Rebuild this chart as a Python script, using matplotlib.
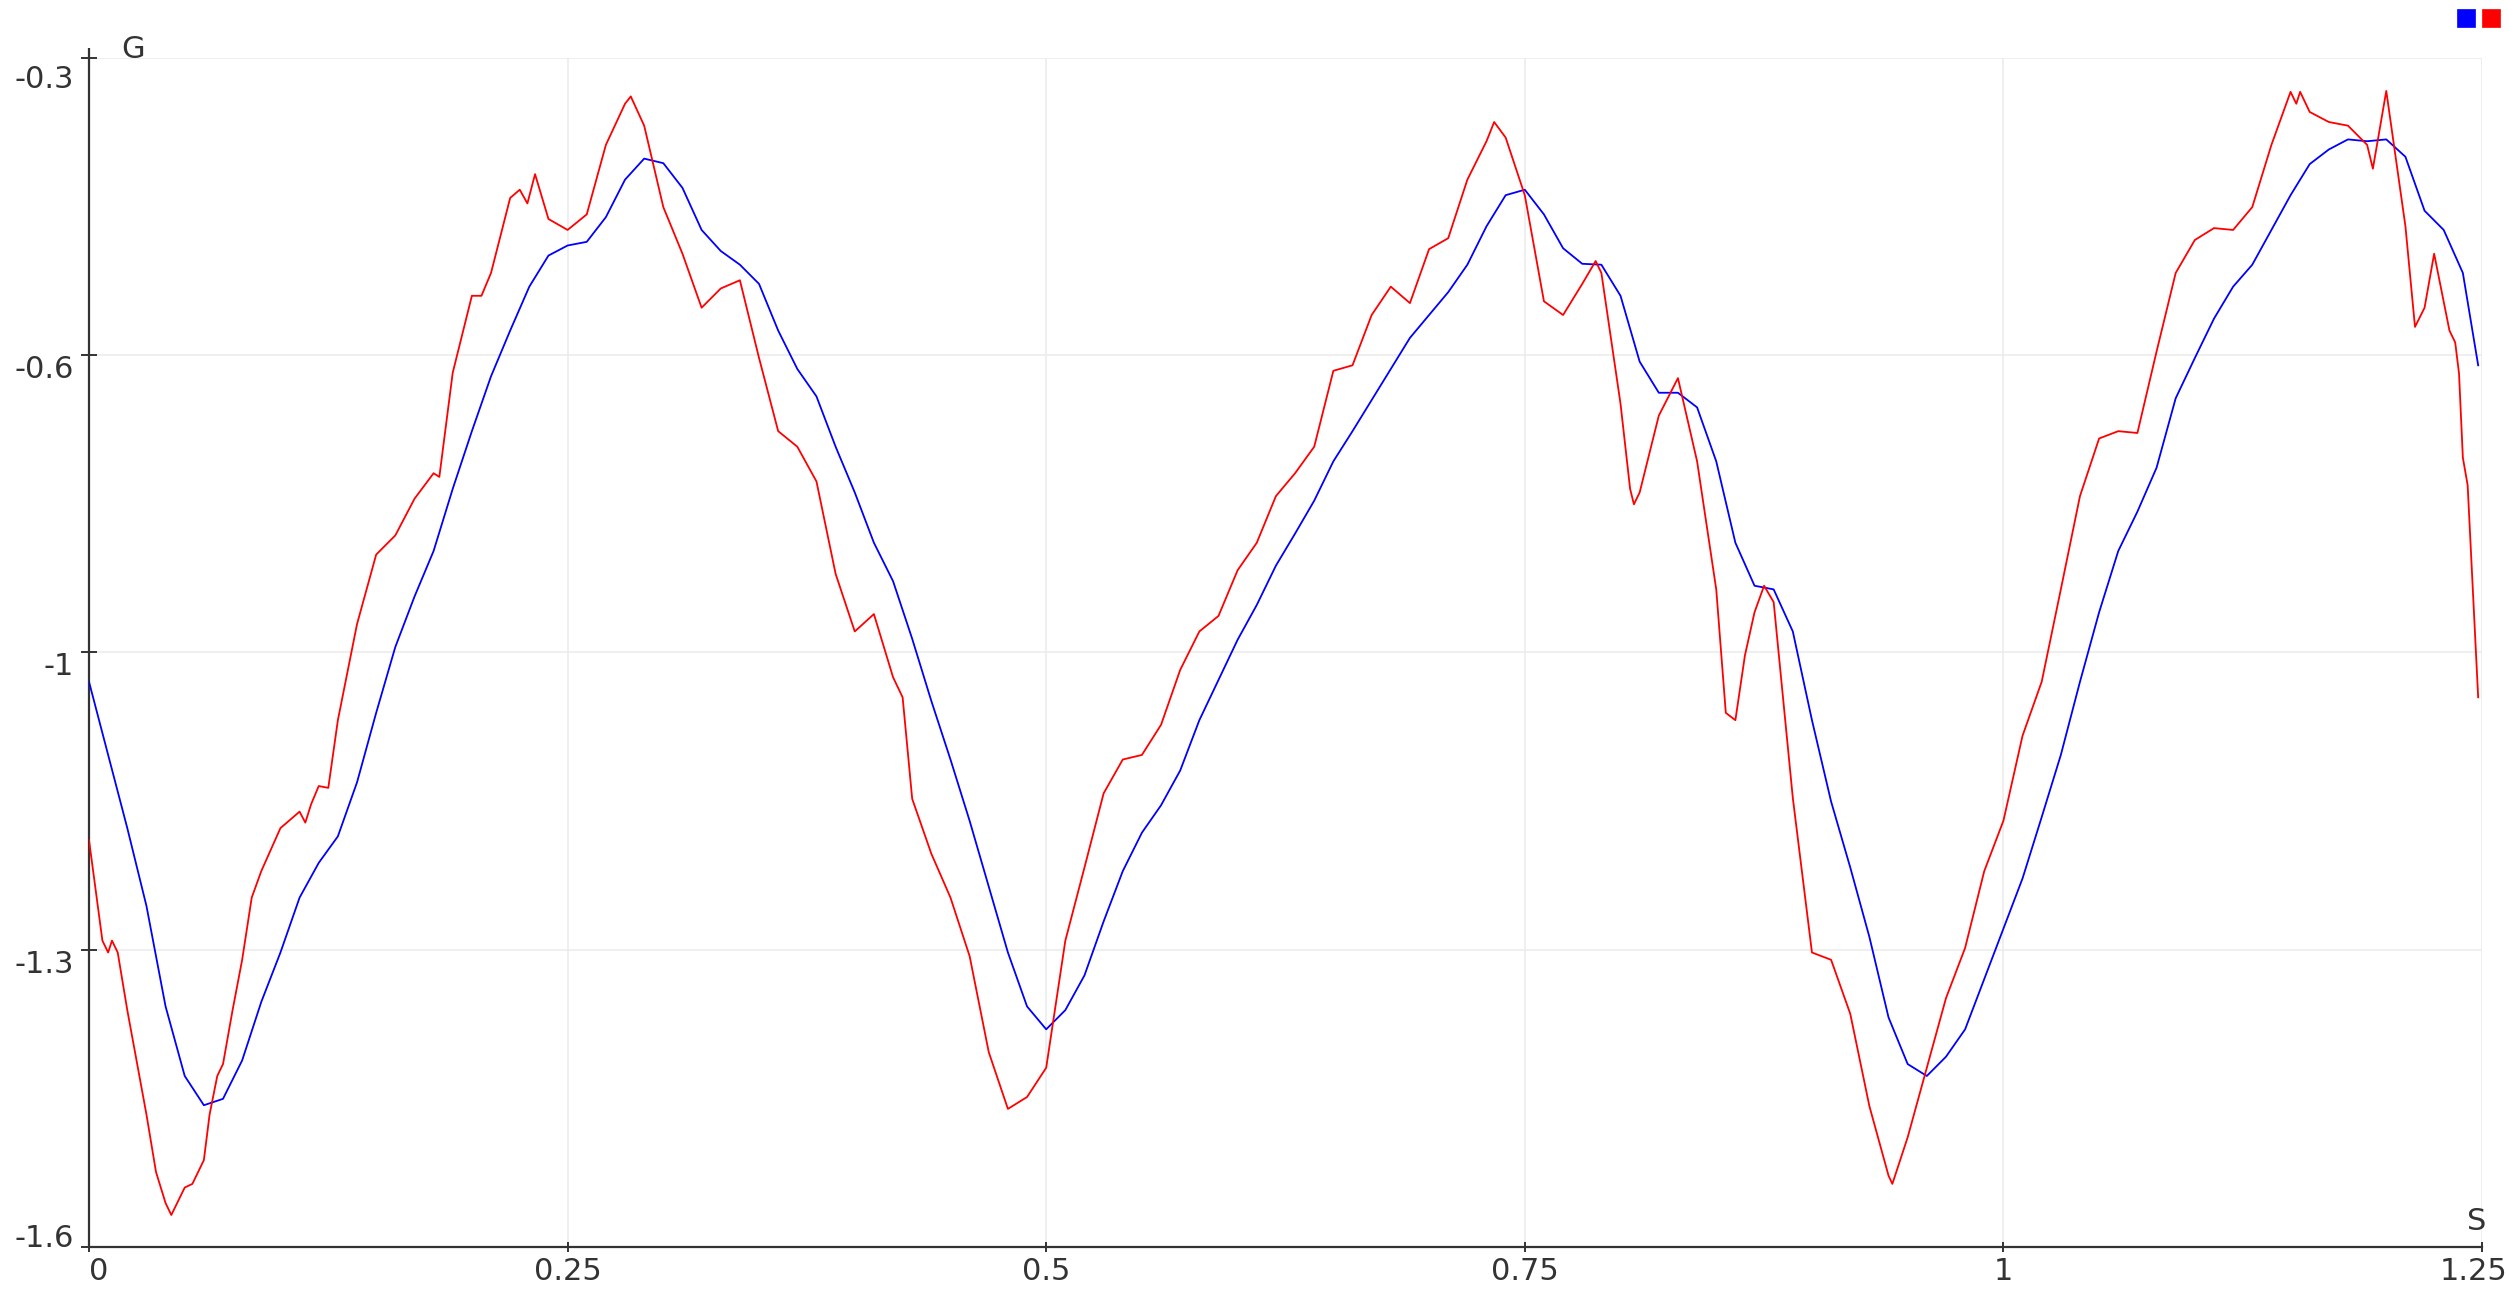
import matplotlib

matplotlib.use("Agg")
import matplotlib.pyplot as plt
import matplotlib.transforms as mtransforms
import numpy as np
from matplotlib.patches import Rectangle


# red trace (raw signal), sampled irregularly to keep the sharp wiggles
RED_T = [
    0.000, 0.007, 0.010, 0.012, 0.015, 0.020, 0.030, 0.035, 0.040, 0.043,
    0.050, 0.054, 0.060, 0.063, 0.067, 0.070, 0.075, 0.080, 0.085, 0.090,
    0.100, 0.110, 0.113, 0.116, 0.120, 0.125, 0.130, 0.140, 0.150, 0.160,
    0.170, 0.180, 0.183, 0.190, 0.200, 0.205, 0.210, 0.220, 0.225, 0.229,
    0.233, 0.240, 0.250, 0.260, 0.270, 0.280, 0.283, 0.290, 0.300, 0.310,
    0.320, 0.330, 0.340, 0.350, 0.360, 0.370, 0.380, 0.390, 0.400, 0.410,
    0.420, 0.425, 0.430, 0.440, 0.450, 0.460, 0.470, 0.480, 0.490, 0.500,
    0.510, 0.520, 0.530, 0.540, 0.550, 0.560, 0.570, 0.580, 0.590, 0.600,
    0.610, 0.620, 0.630, 0.640, 0.650, 0.660, 0.670, 0.680, 0.690, 0.700,
    0.710, 0.720, 0.730, 0.734, 0.740, 0.750, 0.760, 0.770, 0.780, 0.787,
    0.790, 0.800, 0.805, 0.807, 0.810, 0.820, 0.830, 0.840, 0.850, 0.855,
    0.860, 0.865, 0.870, 0.875, 0.880, 0.890, 0.900, 0.910, 0.920, 0.930,
    0.940, 0.942, 0.950, 0.960, 0.970, 0.980, 0.990, 1.000, 1.010, 1.020,
    1.030, 1.040, 1.050, 1.060, 1.070, 1.080, 1.090, 1.100, 1.110, 1.120,
    1.130, 1.140, 1.150, 1.153, 1.155, 1.160, 1.170, 1.180, 1.190, 1.193,
    1.200, 1.210, 1.215, 1.220, 1.225, 1.233, 1.236, 1.238, 1.240, 1.2425,
    1.245, 1.248,
]
RED_G = [
    -1.155, -1.265, -1.278, -1.265, -1.278, -1.341, -1.455, -1.518, -1.552, -1.565,
    -1.535, -1.531, -1.505, -1.455, -1.413, -1.400, -1.341, -1.286, -1.218, -1.189,
    -1.142, -1.124, -1.136, -1.116, -1.096, -1.098, -1.024, -0.919, -0.843, -0.822,
    -0.782, -0.754, -0.758, -0.644, -0.560, -0.560, -0.535, -0.453, -0.444, -0.459,
    -0.427, -0.476, -0.488, -0.471, -0.395, -0.350, -0.342, -0.374, -0.463, -0.514,
    -0.573, -0.552, -0.543, -0.628, -0.708, -0.725, -0.763, -0.864, -0.927, -0.908,
    -0.977, -0.999, -1.110, -1.170, -1.218, -1.282, -1.387, -1.449, -1.436, -1.404,
    -1.265, -1.185, -1.104, -1.067, -1.062, -1.029, -0.969, -0.927, -0.910, -0.860,
    -0.830, -0.779, -0.754, -0.725, -0.642, -0.636, -0.581, -0.550, -0.568, -0.509,
    -0.497, -0.433, -0.391, -0.370, -0.387, -0.450, -0.566, -0.581, -0.547, -0.522,
    -0.535, -0.678, -0.771, -0.788, -0.775, -0.691, -0.650, -0.741, -0.881, -1.016,
    -1.024, -0.953, -0.906, -0.877, -0.895, -1.109, -1.278, -1.286, -1.345, -1.446,
    -1.522, -1.531, -1.480, -1.404, -1.328, -1.273, -1.189, -1.134, -1.041, -0.982,
    -0.881, -0.779, -0.716, -0.708, -0.710, -0.621, -0.535, -0.499, -0.486, -0.488,
    -0.463, -0.395, -0.337, -0.350, -0.337, -0.359, -0.370, -0.374, -0.395, -0.421,
    -0.336, -0.484, -0.594, -0.573, -0.514, -0.598, -0.611, -0.645, -0.737, -0.767,
    -0.872, -0.999,
]

# blue trace (smoothed), one value every 0.01 s plus the last sample
BLUE_T = np.append(np.arange(125) / 100.0, 1.248)
BLUE_G = [
    -0.982, -1.062, -1.142, -1.227, -1.337, -1.413, -1.445, -1.438, -1.396, -1.332,
    -1.278, -1.218, -1.180, -1.151, -1.092, -1.016, -0.944, -0.889, -0.839, -0.771,
    -0.708, -0.648, -0.598, -0.550, -0.516, -0.505, -0.501, -0.474, -0.433, -0.410,
    -0.415, -0.442, -0.488, -0.511, -0.526, -0.547, -0.598, -0.640, -0.670, -0.725,
    -0.775, -0.830, -0.872, -0.935, -1.003, -1.067, -1.134, -1.206, -1.278, -1.337,
    -1.362, -1.341, -1.303, -1.244, -1.189, -1.147, -1.117, -1.079, -1.024, -0.980,
    -0.936, -0.898, -0.855, -0.820, -0.784, -0.741, -0.708, -0.674, -0.640, -0.606,
    -0.581, -0.556, -0.526, -0.484, -0.450, -0.444, -0.471, -0.508, -0.525, -0.526,
    -0.560, -0.632, -0.666, -0.666, -0.682, -0.741, -0.830, -0.877, -0.881, -0.927,
    -1.024, -1.113, -1.185, -1.261, -1.349, -1.400, -1.413, -1.392, -1.362, -1.307,
    -1.252, -1.197, -1.130, -1.062, -0.982, -0.906, -0.839, -0.796, -0.748, -0.672,
    -0.628, -0.585, -0.550, -0.526, -0.488, -0.450, -0.416, -0.400, -0.389, -0.391,
    -0.389, -0.408, -0.467, -0.488, -0.535,
    -0.636,
]

X_TICKS = [0, 0.25, 0.5, 0.75, 1, 1.25]
X_LABELS = ["0", "0.25", "0.5", "0.75", "1", "1.25"]
Y_TICKS = [-1.6, -1.275, -0.95, -0.625, -0.3]
Y_LABELS = ["-1.6", "-1.3", "-1", "-0.6", "-0.3"]

AXIS_COLOR = "#333333"
GRID_COLOR = "#ebebeb"
FONT_SIZE = 22

assert len(RED_T) == len(RED_G)
assert len(BLUE_T) == len(BLUE_G)

W, H = 2509, 1290
fig = plt.figure(figsize=(W / 100, H / 100), dpi=100)
fig.patch.set_facecolor("white")
left, right = 89 / W, 2482 / W
bottom, top = 1 - 1247 / H, 1 - 58 / H
ax = fig.add_axes([left, bottom, right - left, top - bottom])

ax.plot(BLUE_T, BLUE_G, color="#0000ff", lw=1.3, zorder=3)
ax.plot(RED_T, RED_G, color="#ff0000", lw=1.3, zorder=3)

ax.set_xlim(0, 1.25)
ax.set_ylim(-1.6, -0.3)
ax.set_xticks(X_TICKS)
ax.set_xticklabels(X_LABELS)
ax.set_yticks(Y_TICKS)
ax.set_yticklabels(Y_LABELS)

ax.grid(True, color=GRID_COLOR, lw=1.1, zorder=0)
ax.set_axisbelow(True)
for side in ["top", "right"]:
    ax.spines[side].set_visible(False)
for side in ["left", "bottom"]:
    ax.spines[side].set_color(AXIS_COLOR)
    ax.spines[side].set_linewidth(1.6)

# the y axis line runs a little past the top tick
ax.plot([0, 0], [-0.3, -0.289], color=AXIS_COLOR, lw=1.6, clip_on=False,
        solid_capstyle="butt", zorder=4)

ax.tick_params(axis="y", direction="inout", length=12, width=1.4, color=AXIS_COLOR,
               labelsize=FONT_SIZE, labelcolor=AXIS_COLOR, pad=5)
ax.tick_params(axis="x", direction="inout", length=7, width=1.4, color=AXIS_COLOR,
               labelsize=FONT_SIZE, labelcolor=AXIS_COLOR, pad=4)

for lab in ax.get_yticklabels():
    lab.set_verticalalignment("top")
ylabs = ax.get_yticklabels()
ylabs[0].set_verticalalignment("baseline")
ylabs[-1].set_transform(ylabs[-1].get_transform()
                        + mtransforms.ScaledTranslation(0, -7 / 100, fig.dpi_scale_trans))

xlabs = ax.get_xticklabels()
xlabs[0].set_horizontalalignment("left")
xlabs[-1].set_transform(xlabs[-1].get_transform()
                        + mtransforms.ScaledTranslation(-8 / 100, 0, fig.dpi_scale_trans))

# axis names, placed just right of the y axis and just above the x axis end
ax.text(0, 1.0, "G", transform=ax.transAxes + mtransforms.ScaledTranslation(
            44 / 100, 9 / 100, fig.dpi_scale_trans),
        fontsize=FONT_SIZE, color=AXIS_COLOR, ha="center", va="center", clip_on=False)
ax.text(1.0, 0.0, "S", transform=ax.transAxes + mtransforms.ScaledTranslation(
            -5 / 100, 26 / 100, fig.dpi_scale_trans),
        fontsize=FONT_SIZE, color=AXIS_COLOR, ha="center", va="center", clip_on=False)

# legend swatches in the top right corner
for x0, col in [(2457, "#0000ff"), (2482, "#ff0000")]:
    fig.add_artist(Rectangle((x0 / W, 1 - 27 / H), 18 / W, 18 / H,
                             transform=fig.transFigure, facecolor=col,
                             edgecolor=col, lw=0.5))

fig.savefig("out.png", dpi=100, facecolor="white")
plt.close(fig)
